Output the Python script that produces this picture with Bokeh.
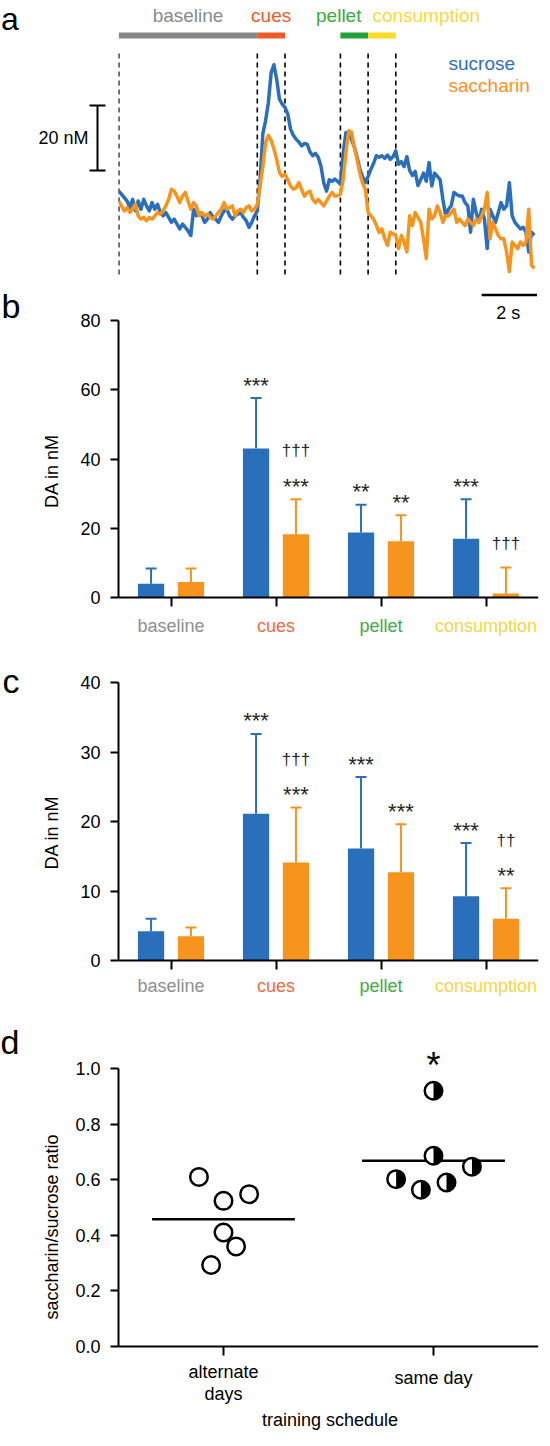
import numpy as np
from bokeh.plotting import figure
from bokeh.models import (Range1d, FixedTicker, PrintfTickFormatter, LinearAxis,
                          CustomJSTickFormatter)
from bokeh.layouts import column, row
from bokeh.embed import file_html
from bokeh.resources import INLINE
from bokeh.core.properties import value

FONT = "Liberation Sans"
BLUE = "#2a6fbb"
ORANGE = "#f7941e"
STRIP_W = 30
W = 542 - STRIP_W

# ---------------- data: panel a (DA traces, nM, 10 Hz) ----------------
sample_dt = 0.1
sucrose_trace = [
    6.5, 5.5, 4.5, 3.5, 1.5, 4.0, 0.5, 3.5, 1.0, 4.0,
    2.0, 0.5, 3.0, 1.0, 2.5, 0.0, -1.0, 0.0, -1.5, -3.0,
    -2.0, -3.5, -5.0, -3.5, -4.5, -5.6, -7.0, 1.0, -1.0, 0.0,
    -1.0, -3.0, -2.0, 0.0, -1.5, -2.0, -3.0, -1.0, 0.5, 1.0,
    -1.0, -2.0, -1.0, -0.5, 0.0, -1.5, -2.5, -4.5, -3.0, -1.0,
    0.5, 10.0, 24.0, 28.0, 33.5, 42.6, 45.0, 40.6, 34.5, 33.0,
    32.0, 30.0, 25.4, 23.5, 22.3, 21.5, 20.3, 21.0, 20.8, 18.5,
    17.3, 18.0, 16.8, 14.0, 9.0, 6.5, 10.0, 9.5, 10.2, 9.5,
    8.6, 18.0, 24.4, 23.9, 22.3, 20.0, 17.0, 13.2, 11.0, 9.1,
    11.0, 13.2, 15.0, 17.3, 16.8, 17.3, 16.5, 17.5, 16.2, 17.0,
    18.8, 14.7, 15.5, 14.0, 17.0, 12.8, 11.3, 12.5, 8.2, 10.0,
    12.0, 9.5, 15.2, 8.1, 12.0, 11.0, 10.0, 4.0, -1.0, 1.0,
    2.0, 6.1, 5.5, 5.0, 5.0, 3.0, 2.0, -6.0, 4.0, 0.0,
    -3.0, 1.0, -2.0, -11.0, 1.0, -1.0, -3.0, 0.0, 3.0, 1.0,
    2.0, 9.1, -1.0, -3.0, -4.0, -5.0, -4.5, -6.0, -12.0, -6.0,
    -7.0,
]
saccharin_trace = [
    3.5, 2.0, 0.5, 1.5, 0.0, 1.0, 2.5, -1.0, -2.0, -1.5,
    -2.5, -1.5, -2.0, -1.0, 0.0, -0.5, 0.5, 2.0, 4.0, 7.1,
    6.5, 5.0, 3.0, 5.0, 6.1, 3.5, 1.0, 3.0, 2.0, -1.0,
    0.0, -1.0, -0.5, -1.5, -2.0, -1.0, 0.0, 1.0, 3.0, 1.0,
    1.5, 2.0, -1.0, 0.5, 1.0, 0.0, 1.5, 2.0, 0.5, 1.0,
    2.5, 8.0, 14.0, 21.3, 23.5, 22.0, 19.3, 16.2, 12.2, 11.0,
    11.7, 10.0, 8.1, 7.1, 7.5, 9.1, 7.0, 5.0, 6.0, 6.5,
    4.0, 3.0, 4.0, 3.0, 2.0, 3.5, 5.0, 6.1, 5.0, 5.1,
    5.5, 10.0, 18.3, 24.9, 24.5, 20.0, 16.2, 12.0, 9.0, 7.1,
    0.0, -1.0, -2.0, -4.0, -6.1, -5.0, -8.0, -10.0, -6.0, -6.5,
    -7.0, -11.0, -7.0, -9.0, -12.0, -1.0, -4.0, 0.0, -1.5, -3.0,
    -8.0, -14.0, 1.0, -2.0, -1.0, 2.0, 0.0, -3.0, -1.0, -1.0,
    0.0, 1.0, -3.0, -2.0, -3.0, -4.0, -2.0, -3.0, -4.0, -2.0,
    -3.0, -1.0, 1.0, 6.1, -8.0, -3.0, -5.0, -7.0, -8.0, -8.0,
    -12.0, -18.0, -9.0, -10.0, -11.0, -9.0, -10.0, -9.0, 1.0, -16.0,
    -17.0,
]
epoch_names = ["baseline", "cues", "pellet", "consumption"]
epoch_start = [0, 5, 8, 9]
epoch_end = [5, 6, 9, 10]
event_times = [0, 5, 6, 8, 9, 10]
scale_nM = 20
scale_s = 2

# ---------------- data: panels b, c (bar means + SEM) ----------------
categories = ["baseline", "cues", "pellet", "consumption"]
b_sucrose = [4.0, 43.0, 18.75, 17.0]
b_sucrose_sem = [4.4, 14.6, 8.05, 11.4]
b_saccharin = [4.5, 18.3, 16.25, 1.15]
b_saccharin_sem = [3.9, 10.1, 7.5, 7.5]
b_sucrose_marks = [[], ["***"], ["**"], ["***"]]
b_saccharin_marks = [[], ["***", "†††"], ["**"], ["†††"]]

c_sucrose = [4.2, 21.1, 16.1, 9.25]
c_sucrose_sem = [1.8, 11.5, 10.3, 7.65]
c_saccharin = [3.5, 14.1, 12.7, 6.0]
c_saccharin_sem = [1.25, 7.9, 6.9, 4.4]
c_sucrose_marks = [[], ["***"], ["***"], ["***"]]
c_saccharin_marks = [[], ["***", "†††"], ["***"], ["**", "††"]]

# ---------------- data: panel d (saccharin/sucrose ratio) ----------------
alt_ratio = [0.61, 0.524, 0.548, 0.41, 0.36, 0.293]
alt_jitter = [-0.117, 0.0, 0.122, 0.0, 0.06, -0.059]
same_ratio = [0.92, 0.686, 0.602, 0.564, 0.59, 0.647]
same_jitter = [0.0, 0.0, -0.178, -0.06, 0.062, 0.183]

panel_letters = ["a", "b", "c", "d"]

# ---------------- styles ----------------
epoch_bar_colors = ["#858585", "#f15a24", "#22a13a", "#fcdb26"]
epoch_text_colors = ["#8a8a8a", "#f05a28", "#3aa93a", "#f8d93c"]
cat_text_colors = ["#8f8f8f", "#f06a3a", "#45a845", "#f5d547"]
MARK_COLOR = "#262626"
L_BORDER, R_BORDER = 118 - STRIP_W, 4   # identical for all panels (column aligns frames)
FRAME_L, FRAME_R = 126.0, 546.0         # reference-pixel frame edges
BASE_SHIFT = 0.35                       # em shift of rendered alphabetic baseline


def txt(p, x, y, s, fs, color="black", align="center"):
    p.text(x=[x], y=[y], text=[s], text_font=value(FONT), text_font_size=f"{fs}px",
           text_color=color, text_align=align, text_baseline="alphabetic")


# =========================== letter strip ===========================
strip = figure(width=STRIP_W, height=1430, output_backend="svg", toolbar_location=None,
               x_range=Range1d(8, 8 + STRIP_W), y_range=Range1d(1438, 8),
               x_axis_type=None, y_axis_type=None, min_border=0)
strip.grid.visible = False
strip.outline_line_color = None
letter_pos = [(17.5, 37.5, 32), (18.5, 325.0, 34), (18.4, 700.0, 34), (17.5, 1061.7, 34)]
for s, (lx, lb, lfs) in zip(panel_letters, letter_pos):
    txt(strip, lx, lb - BASE_SHIFT * lfs, s, lfs)

# =========================== panel a ===========================
PX_S, X0, Y0, PX_NM = 27.7, 126.3, 220.0, 3.283
A_TOP, A_BOT = 8, 305


def ax_(xr):
    return (xr - X0) / PX_S


def ay_(yr):
    return (Y0 - yr) / PX_NM


pa = figure(width=W, height=A_BOT - A_TOP, output_backend="svg", toolbar_location=None,
            x_range=Range1d(ax_(FRAME_L), ax_(FRAME_R)),
            y_range=Range1d(ay_(A_BOT), ay_(A_TOP)),
            x_axis_type=None, y_axis_type=None,
            min_border_left=L_BORDER, min_border_right=R_BORDER,
            min_border_top=0, min_border_bottom=0)
pa.grid.visible = False
pa.outline_line_color = None

# spacer (one invisible white tick) so that the scale-bar axis sits left of the traces
pa.add_layout(LinearAxis(ticker=FixedTicker(ticks=[ay_(296)]), axis_line_color=None,
                         major_tick_line_color="white", major_tick_line_width=1,
                         minor_tick_line_color=None, major_tick_out=21, major_tick_in=0,
                         major_label_text_color=None), "left")
# 20 nM scale bar drawn as a bounded axis
SB = ay_(178.3)
scale_ax = LinearAxis(
    ticker=FixedTicker(ticks=[SB + scale_nM / 2], minor_ticks=[SB, SB + scale_nM]),
    formatter=CustomJSTickFormatter(code='return "%d nM"' % scale_nM),
    bounds=(SB - 1e-6, SB + scale_nM + 1e-6),
    axis_line_width=2, axis_line_color="black",
    major_tick_line_color=None, major_tick_out=8, major_tick_in=0,
    minor_tick_line_color="black", minor_tick_line_width=2, minor_tick_in=8,
    minor_tick_out=8, major_label_standoff=1, major_label_text_font=FONT,
    major_label_text_font_size="18px", major_label_text_color="black")
pa.add_layout(scale_ax, "left")

# dashed event lines
pa.segment(x0=event_times, x1=event_times, y0=[ay_(282)] * len(event_times),
           y1=[ay_(58)] * len(event_times), line_color="black", line_width=1.6,
           line_dash="5 4")
# epoch bars + labels
pa.segment(x0=epoch_start, x1=epoch_end, y0=[ay_(43)] * 4, y1=[ay_(43)] * 4,
           line_color=epoch_bar_colors, line_width=6, line_cap="butt")
epoch_label_x = [2.5, 5.5, 7.94, 11.1]
for nm, xx, col in zip(epoch_names, epoch_label_x, epoch_text_colors):
    txt(pa, xx, ay_(30 - BASE_SHIFT * 19), nm, 19, col)

ts = np.arange(len(sucrose_trace)) * sample_dt
tc = np.arange(len(saccharin_trace)) * sample_dt
pa.line(ts, sucrose_trace, line_color=BLUE, line_width=3.5, line_join="round")
pa.line(tc, saccharin_trace, line_color=ORANGE, line_width=3.5, line_join="round")

txt(pa, ax_(456), ay_(77.3 - BASE_SHIFT * 19), "sucrose", 19, BLUE, align="left")
txt(pa, ax_(456), ay_(100 - BASE_SHIFT * 19), "saccharin", 19, ORANGE, align="left")

# 2 s scale bar
pa.segment(x0=[13.1], x1=[13.1 + scale_s], y0=[ay_(302.5)], y1=[ay_(302.5)],
           line_color="black", line_width=2.5, line_cap="butt")


# =========================== panels b, c ===========================
def style_main_axes(p, yticks, ymax, fmt=None, x_side="below"):
    xa = p.xaxis[0]
    ya = p.yaxis[0]
    for ax in (xa, ya):
        ax.axis_line_width = 2
        ax.axis_line_color = "black"
        ax.major_tick_line_width = 2
        ax.major_tick_line_color = "black"
        ax.minor_tick_line_color = None
    xa.fixed_location = 0
    xa.major_label_text_color = None
    if x_side == "below":
        xa.major_tick_out, xa.major_tick_in = 9, 0
    else:
        xa.major_tick_out, xa.major_tick_in = 0, 9
    ya.bounds = (0, ymax)
    ya.major_tick_out, ya.major_tick_in = 8, 0
    ya.ticker = FixedTicker(ticks=yticks)
    if fmt:
        ya.formatter = PrintfTickFormatter(format=fmt)
    ya.major_label_text_font = FONT
    ya.major_label_text_font_size = "18px"
    ya.major_label_text_color = "black"
    ya.major_label_standoff = 10
    ya.axis_label_text_font = FONT
    ya.axis_label_text_font_size = "18px"
    ya.axis_label_text_font_style = "normal"
    ya.axis_label_text_color = "black"
    p.grid.visible = False
    p.outline_line_color = None


BAR_PPX = (FRAME_R - FRAME_L) / 4.0


def bar_panel(fig_top, fig_bot, zero_ref, ymax_ref, ymax, yticks, suc, suc_sem, sac,
              sac_sem, suc_marks, sac_marks, cat_base):
    frame_bot = fig_bot - 10
    ppu = (zero_ref - ymax_ref) / ymax

    def yd(r):
        return (zero_ref - r) / ppu

    p = figure(width=W, height=fig_bot - fig_top, output_backend="svg",
               toolbar_location=None,
               x_range=Range1d(0.5, 4.5), y_range=Range1d(yd(frame_bot), yd(fig_top)),
               min_border_left=L_BORDER, min_border_right=R_BORDER, min_border_top=0,
               min_border_bottom=10)
    style_main_axes(p, yticks, ymax)
    p.xaxis[0].ticker = FixedTicker(ticks=[1, 2, 3, 4])
    p.yaxis[0].axis_label = "DA in nM"
    p.yaxis[0].axis_label_standoff = 15

    cx = np.arange(1, len(categories) + 1)
    for off, vals, sem, col, marks in ((-0.19, suc, suc_sem, BLUE, suc_marks),
                                       (0.19, sac, sac_sem, ORANGE, sac_marks)):
        xs = cx + off
        tops = np.array(vals) + np.array(sem)
        p.segment(x0=xs, x1=xs, y0=vals, y1=tops, line_color=col, line_width=2)
        p.scatter(xs, tops, marker="dash", size=11, line_color=col, line_width=2)
        p.vbar(x=xs, top=vals, width=0.25, fill_color=col, line_color=None)
        for xi, ti, ml in zip(xs, tops, marks):
            center = zero_ref - ti * ppu
            for j, s in enumerate(ml):
                star = "*" in s
                if j == 0:
                    center -= 18 if star else 23
                else:
                    center -= 29
                fs = 22 if star else 17
                anchor = center + (0.23 * fs if star else -0.07 * fs)
                txt(p, xi, yd(anchor), s, fs, MARK_COLOR)
    for i, (nm, col) in enumerate(zip(categories, cat_text_colors)):
        txt(p, i + 1, yd(cat_base - BASE_SHIFT * 18), nm, 18, col)
    return p, yd


pb, yb = bar_panel(305, 662, 605, 328, 80, [0, 20, 40, 60, 80], b_sucrose, b_sucrose_sem,
                   b_saccharin, b_saccharin_sem, b_sucrose_marks, b_saccharin_marks,
                   639.3)
txt(pb, 0.5 + (515.8 - FRAME_L) / BAR_PPX, yb(326.7 - BASE_SHIFT * 18), "%d s" % scale_s,
    18)

pc, yc = bar_panel(662, 1028, 968, 690, 40, [0, 10, 20, 30, 40], c_sucrose, c_sucrose_sem,
                   c_saccharin, c_saccharin_sem, c_sucrose_marks, c_saccharin_marks,
                   999.3)

# =========================== panel d ===========================
D_TOP, D_BOT, D_MT = 1028, 1438, 3
D_ZERO, D_ONE = 1354.0, 1076.0
ppu_d = D_ZERO - D_ONE


def yd_(r):
    return (D_ZERO - r) / ppu_d


pdd = figure(width=W, height=D_BOT - D_TOP, output_backend="svg", toolbar_location=None,
             x_range=Range1d(0.5, 2.5), y_range=Range1d(yd_(D_BOT), yd_(D_TOP + D_MT)),
             x_axis_location="above",
             min_border_left=L_BORDER, min_border_right=R_BORDER, min_border_top=D_MT,
             min_border_bottom=0)
style_main_axes(pdd, [0, 0.2, 0.4, 0.6, 0.8, 1.0], 1.0, "%.1f", x_side="above")
pdd.xaxis[0].ticker = FixedTicker(ticks=[1, 2])
pdd.yaxis[0].axis_label = "saccharin/sucrose ratio"
pdd.yaxis[0].axis_label_standoff = 10

for g, vals in ((1, alt_ratio), (2, same_ratio)):
    m = float(np.mean(vals))
    pdd.segment(x0=[g - 0.34], x1=[g + 0.34], y0=[m], y1=[m], line_color="black",
                line_width=2.5)
ax_pts = 1 + np.array(alt_jitter)
sx_pts = 2 + np.array(same_jitter)
pdd.scatter(ax_pts, alt_ratio, marker="circle", size=17.5, fill_color="white",
            line_color="black", line_width=2.5)
pdd.scatter(sx_pts, same_ratio, marker="circle", size=17.5, fill_color="white",
            line_color="black", line_width=2.5)
pdd.wedge(x=sx_pts, y=same_ratio, radius=8.75, radius_units="screen",
          start_angle=-np.pi / 2, end_angle=np.pi / 2, fill_color="black", line_color=None)

txt(pdd, 1, yd_(1386 - BASE_SHIFT * 18), "alternate", 18)
txt(pdd, 1, yd_(1407.7 - BASE_SHIFT * 18), "days", 18)
txt(pdd, 2, yd_(1391.7 - BASE_SHIFT * 18), "same day", 18)
txt(pdd, 1.507, yd_(1434 - BASE_SHIFT * 18), "training schedule", 18)
txt(pdd, 2, yd_(1065 + 0.23 * 36), "*", 36)

layout = row(strip, column(pa, pb, pc, pdd))
open("out.html", "w").write(file_html(layout, INLINE))
